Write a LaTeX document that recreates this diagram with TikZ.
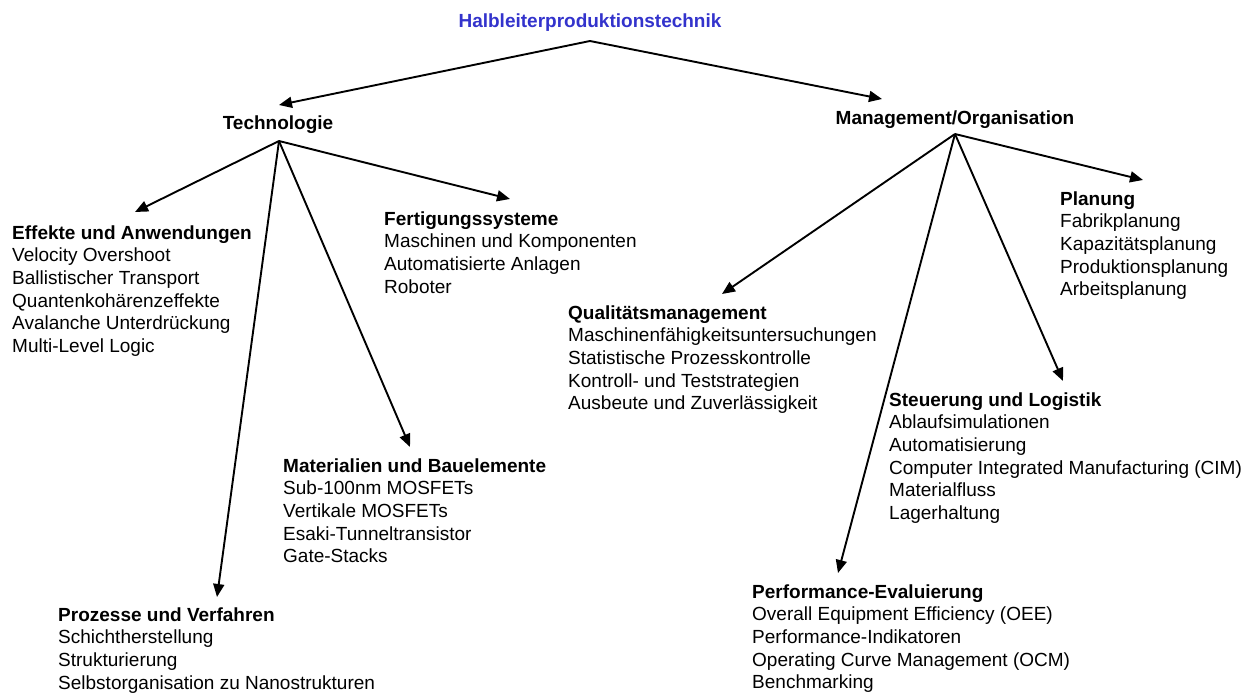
\documentclass[tikz,border=0pt]{standalone}
\usepackage{fontspec}
\setmainfont{Liberation Sans}
\usetikzlibrary{arrows.meta}
\definecolor{titleblue}{RGB}{51,51,204}
\begin{document}
\begin{tikzpicture}[x=1pt,y=-1pt,
  txt/.style={inner sep=0pt,font=\fontsize{19}{22.7}\selectfont},
  block/.style={txt,anchor=north west,align=left},
  link/.style={line width=1.9pt,-{Triangle[length=13pt,width=11pt]}}]
\useasboundingbox (0,0) rectangle (1254,695);

% level 0 and 1 labels
\node[txt,anchor=base,text=titleblue,font=\fontsize{19}{22.7}\selectfont\bfseries] (root) at (590,28) {Halbleiterproduktionstechnik};
\node[txt,anchor=base,font=\fontsize{19}{22.7}\selectfont\bfseries] (tech) at (278,130) {Technologie};
\node[txt,anchor=base,font=\fontsize{19}{22.7}\selectfont\bfseries] (mgmt) at (955,125) {Management/Organisation};

% technology branches
\node[block] (effekte) at (12,223) {\strut\textbf{Effekte und Anwendungen}\\Velocity Overshoot\\Ballistischer Transport\\Quantenkohärenzeffekte\\Avalanche Unterdrückung\\Multi-Level Logic};
\node[block] (fertigung) at (384,209) {\strut\textbf{Fertigungssysteme}\\Maschinen und Komponenten\\Automatisierte Anlagen\\Roboter};
\node[block] (material) at (283,456) {\strut\textbf{Materialien und Bauelemente}\\Sub-100nm MOSFETs\\Vertikale MOSFETs\\Esaki-Tunneltransistor\\Gate-Stacks};
\node[block] (prozesse) at (58,605) {\strut\textbf{Prozesse und Verfahren}\\Schichtherstellung\\Strukturierung\\Selbstorganisation zu Nanostrukturen};

% management branches
\node[block] (qualitaet) at (568,303) {\strut\textbf{Qualitätsmanagement}\\Maschinenfähigkeitsuntersuchungen\\Statistische Prozesskontrolle\\Kontroll- und Teststrategien\\Ausbeute und Zuverlässigkeit};
\node[block] (planung) at (1060,189) {\strut\textbf{Planung}\\Fabrikplanung\\Kapazitätsplanung\\Produktionsplanung\\Arbeitsplanung};
\node[block] (steuerung) at (889,390) {\strut\textbf{Steuerung und Logistik}\\Ablaufsimulationen\\Automatisierung\\Computer Integrated Manufacturing (CIM)\\Materialfluss\\Lagerhaltung};
\node[block] (performance) at (752,582) {\strut\textbf{Performance-Evaluierung}\\Overall Equipment Efficiency (OEE)\\Performance-Indikatoren\\Operating Curve Management (OCM)\\Benchmarking};

% fan-out points below the labels and arrow ends above the headings
\coordinate (root-out) at (590,41);
\coordinate (tech-out) at (279,141);
\coordinate (mgmt-out) at (955,134);
\coordinate (tech-in) at (279,105);
\coordinate (mgmt-in) at (882,99);
\coordinate (effekte-in) at (135,212);
\coordinate (fertigung-in) at (510,199);
\coordinate (material-in) at (410,447);
\coordinate (prozesse-in) at (217,597);
\coordinate (qualitaet-in) at (722,294);
\coordinate (planung-in) at (1143,180);
\coordinate (steuerung-in) at (1063,381);
\coordinate (performance-in) at (838,573);

\draw[link] (root-out) -- (tech-in);
\draw[link] (root-out) -- (mgmt-in);
\draw[link] (tech-out) -- (effekte-in);
\draw[link] (tech-out) -- (fertigung-in);
\draw[link] (tech-out) -- (material-in);
\draw[link] (tech-out) -- (prozesse-in);
\draw[link] (mgmt-out) -- (qualitaet-in);
\draw[link] (mgmt-out) -- (planung-in);
\draw[link] (mgmt-out) -- (steuerung-in);
\draw[link] (mgmt-out) -- (performance-in);
\end{tikzpicture}
\end{document}
